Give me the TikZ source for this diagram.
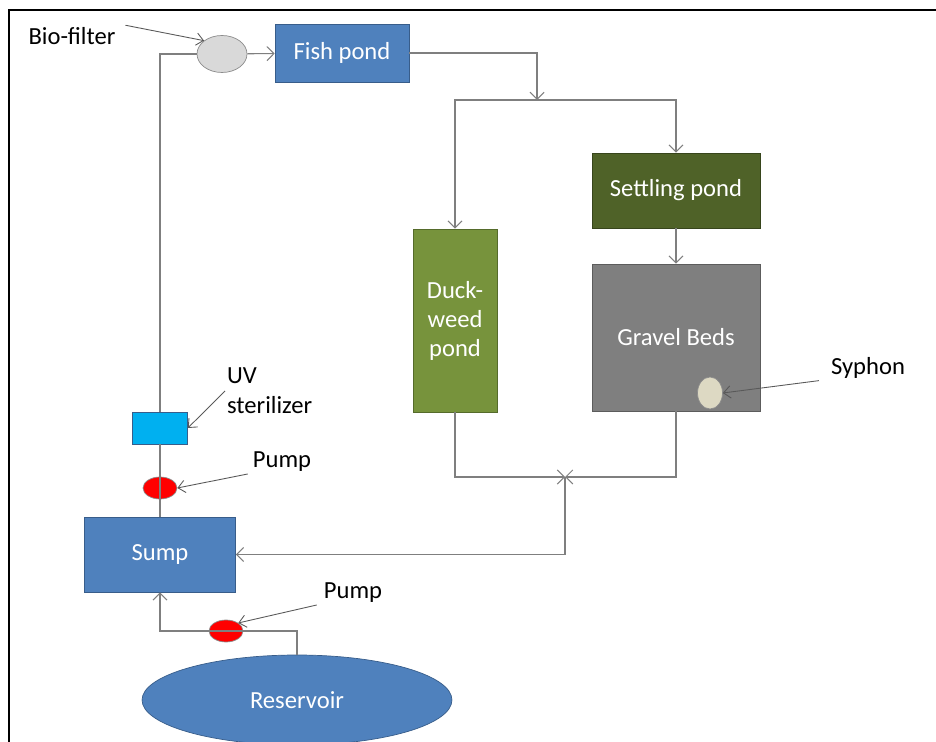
\documentclass[tikz,border=0pt]{standalone}
\usepackage{fontspec}
\setmainfont{Carlito}
\usetikzlibrary{arrows.meta, positioning, shapes}

\definecolor{pondblue}{HTML}{4F81BD}
\definecolor{pondedge}{HTML}{385D8A}
\definecolor{duckgreen}{HTML}{77933C}
\definecolor{duckedge}{HTML}{556B2B}
\definecolor{settlegreen}{HTML}{4F6228}
\definecolor{settleedge}{HTML}{37451C}
\definecolor{gravelgray}{HTML}{7F7F7F}
\definecolor{graveledge}{HTML}{5C5C5C}
\definecolor{uvcyan}{HTML}{00B0F0}
\definecolor{filtergray}{HTML}{D9D9D9}
\definecolor{syphonbeige}{HTML}{DDD9C3}
\definecolor{linegray}{HTML}{7F7F7F}

\tikzset{
  tank/.style={draw=pondedge, fill=pondblue, text=white, inner sep=0pt, align=center,
    font=\fontsize{14}{16.5}\selectfont},
  blob/.style={ellipse, draw=black!45, inner sep=0pt},
  flow/.style={draw=linegray, line width=0.6pt, -{Straight Barb[length=4pt,width=8pt]}},
  pipe/.style={draw=linegray, line width=0.6pt},
  callout/.style={draw=black!65, line width=0.5pt, -{Straight Barb[length=4pt,width=7pt]}},
  tag/.style={inner sep=1pt, align=left, font=\fontsize{14}{17}\selectfont},
}

\begin{document}
\begin{tikzpicture}[x=0.02cm, y=-0.02cm]
    \useasboundingbox (0,0) rectangle (936,742);
    % outer frame
    \draw[line width=1.2pt] (9,742) -- (9,10) -- (936,10);

    % tanks and ponds
    \node[tank, minimum width=2.68cm, minimum height=1.16cm] (fishpond) at (342,53) {Fish pond};
    \node[tank, fill=duckgreen, draw=duckedge, minimum width=1.68cm, minimum height=3.66cm] (duckweed) at (455,320.5) {Duck-\\weed\\pond};
    \node[tank, fill=settlegreen, draw=settleedge, minimum width=3.36cm, minimum height=1.5cm] (settling) at (676,190.5) {Settling pond};
    \node[tank, fill=gravelgray, draw=graveledge, minimum width=3.36cm, minimum height=2.94cm] (gravel) at (676,337.5) {Gravel Beds};
    \node[tank, minimum width=3.02cm, minimum height=1.5cm] (sump) at (160,554.5) {Sump};
    \node[tank, ellipse, minimum width=6.2cm, minimum height=1.8cm] (reservoir) at (297,700) {Reservoir};

    % small parts
    \node[blob, fill=filtergray, minimum width=1.0cm, minimum height=0.74cm] (biofilter) at (222,54) {};
    \node[draw=pondedge, fill=uvcyan, inner sep=0pt, minimum width=1.1cm, minimum height=0.64cm] (uv) at (160,428) {};
    \node[blob, fill=red, minimum width=0.68cm, minimum height=0.44cm] (pumpA) at (160,488) {};
    \node[blob, fill=red, minimum width=0.68cm, minimum height=0.44cm] (pumpB) at (226,631) {};
    \node[blob, fill=syphonbeige, minimum width=0.5cm, minimum height=0.64cm] (syphon) at (710,393) {};

    % junctions
    \coordinate (split) at (537,100);
    \coordinate (merge) at (565,477);

    % pipes
    \draw[flow] (biofilter) -- (fishpond);
    \draw[pipe] (biofilter.west) -| (uv.north);
    \draw[pipe] (uv.south) -- (sump.north);
    \draw[flow] (reservoir.north) |- (pumpB.center) -| (sump.south);
    \draw[flow] (fishpond.east) -| (split);
    \draw[flow] (split) -| (duckweed.north);
    \draw[flow] (split) -| (settling.north);
    \draw[flow] (settling) -- (gravel);
    \draw[flow] (duckweed.south) |- (merge);
    \draw[flow] (gravel.south) |- (merge);
    \draw[flow] (merge) |- (sump.east);

    % labels
    \node[tag] (biolbl) at (72,36) {Bio-filter};
    \node[tag, anchor=west] (uvlbl) at (225,391) {UV\\sterilizer};
    \node[tag] (pumpAlbl) at (282,462) {Pump};
    \node[tag] (pumpBlbl) at (353,593) {Pump};
    \node[tag] (syphonlbl) at (868,368) {Syphon};

    \draw[callout] ([xshift=0.16cm]biolbl.north east) -- (biofilter.north west);
    \draw[callout] (uvlbl.west) -- (uv.east);
    \draw[callout] ([xshift=-0.06cm]pumpAlbl.south west) -- (pumpA.east);
    \draw[callout] ([xshift=-0.1cm]pumpBlbl.south west) -- (pumpB.north east);
    \draw[callout] ([xshift=-0.2cm]syphonlbl.south west) -- (syphon.east);
\end{tikzpicture}
\end{document}
